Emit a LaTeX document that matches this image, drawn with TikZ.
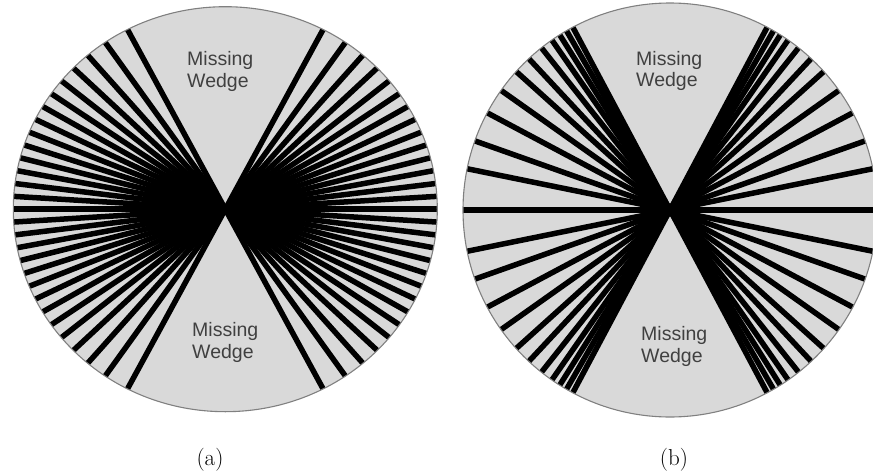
\documentclass[tikz,border=0pt]{standalone}
\usepackage{fontspec}
\usetikzlibrary{calc}
\newfontfamily\labelfont{Liberation Sans}
\definecolor{diskgray}{gray}{0.85}
\definecolor{rimgray}{gray}{0.5}
\definecolor{labelgray}{gray}{0.25}
\begin{document}
\begin{tikzpicture}[x=1pt,y=-1pt,
  disk/.style={fill=diskgray},
  rim/.style={draw=rimgray, line width=1.1pt},
  ray/.style={line width=5.5pt, black},
  wedgelabel/.style={font=\labelfont\fontsize{19.5}{21.7}\selectfont, text=labelgray, align=left, inner sep=0pt, anchor=west},
  caption/.style={font=\fontsize{23}{26}\selectfont, inner sep=0pt}]
\useasboundingbox (0,0) rectangle (873,474);
\clip (0,0) rectangle (873,474);

% ---------- (a): tilts with constant step in sine ----------
\coordinate (ca) at (225.3,209.2);
\begin{scope}
  \clip (ca) ellipse [x radius=212, y radius=202.5];
  \fill[disk] (ca) ellipse [x radius=212, y radius=202.5];
  \foreach \k in {-14,...,14}{
    \pgfmathsetmacro\s{0.887*\k/14}
    \pgfmathsetmacro\c{sqrt(1-\s*\s)}
    \draw[ray] ({225.3-230*\c},{209.2+220*\s}) -- ({225.3+230*\c},{209.2-220*\s});
  }
\end{scope}
\draw[rim] (ca) ellipse [x radius=212, y radius=202.5];
\node[wedgelabel] (wa1) at (187,71.7) {Missing\\Wedge};
\node[wedgelabel] (wa2) at (192,342.5) {Missing\\Wedge};
\node[caption] (capa) at (210,460) {(a)};

% ---------- (b): finer steps at high tilt ----------
\coordinate (cb) at (670,210);
\begin{scope}
  \clip (cb) circle [radius=207];
  \fill[disk] (cb) circle [radius=207];
  \foreach \t in {0,11.5,-11.5,19.5,-19.5,28,-28,35.3,-35.3,42,-42,47,-47,51.6,-51.6,55.2,-55.2,57.8,-57.8,60,-60,62,-62}{
    \draw[ray] ($(cb)+(\t:-230)$) -- ($(cb)+(\t:230)$);
  }
\end{scope}
\draw[rim] (cb) circle [radius=207];
\node[wedgelabel] (wb1) at (636,71) {Missing\\Wedge};
\node[wedgelabel] (wb2) at (641,346.7) {Missing\\Wedge};
\node[caption] (capb) at (674,460) {(b)};
\end{tikzpicture}
\end{document}
